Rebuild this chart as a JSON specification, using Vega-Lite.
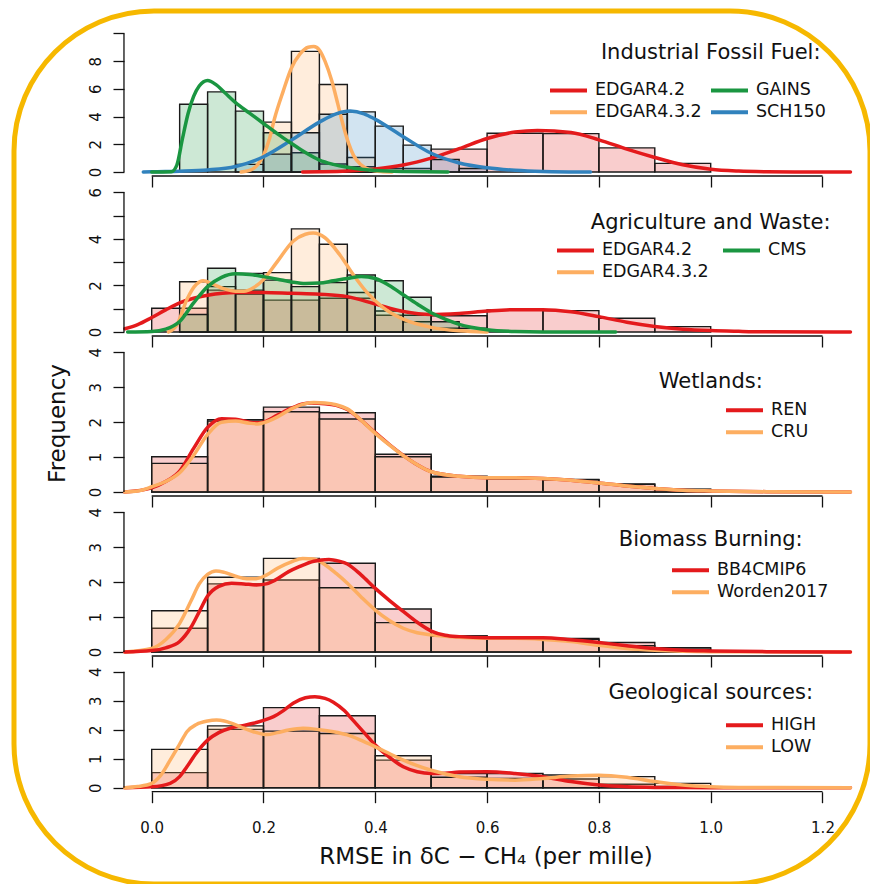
{
"$schema": "https://vega.github.io/schema/vega-lite/v6.json",
"width": 856, "height": 873,
"autosize": {"type": "none"},
"padding": {"left": 14, "top": 11, "right": 0, "bottom": 0},
"background": "white",
"datasets": {
"bars": [
{"p":1,"s":"EDGAR4.2","x0":0.4,"x1":0.5,"v":0.25},{"p":1,"s":"EDGAR4.2","x0":0.5,"x1":0.6,"v":1.65},{"p":1,"s":"EDGAR4.2","x0":0.6,"x1":0.7,"v":2.8},{"p":1,"s":"EDGAR4.2","x0":0.7,"x1":0.8,"v":2.77},{"p":1,"s":"EDGAR4.2","x0":0.8,"x1":0.9,"v":1.74},{"p":1,"s":"EDGAR4.2","x0":0.9,"x1":1.0,"v":0.62},
{"p":1,"s":"EDGAR4.3.2","x0":0.2,"x1":0.25,"v":3.6},{"p":1,"s":"EDGAR4.3.2","x0":0.25,"x1":0.3,"v":8.7},{"p":1,"s":"EDGAR4.3.2","x0":0.3,"x1":0.35,"v":6.31},{"p":1,"s":"EDGAR4.3.2","x0":0.35,"x1":0.4,"v":1.05},
{"p":1,"s":"GAINS","x0":0.05,"x1":0.1,"v":4.89},{"p":1,"s":"GAINS","x0":0.1,"x1":0.15,"v":5.78},{"p":1,"s":"GAINS","x0":0.15,"x1":0.2,"v":4.39},{"p":1,"s":"GAINS","x0":0.2,"x1":0.25,"v":2.83},{"p":1,"s":"GAINS","x0":0.25,"x1":0.3,"v":1.39},{"p":1,"s":"GAINS","x0":0.3,"x1":0.35,"v":0.58},{"p":1,"s":"GAINS","x0":0.35,"x1":0.4,"v":0.38},
{"p":1,"s":"SCH150","x0":0.15,"x1":0.2,"v":0.55},{"p":1,"s":"SCH150","x0":0.2,"x1":0.25,"v":1.29},{"p":1,"s":"SCH150","x0":0.25,"x1":0.3,"v":2.83},{"p":1,"s":"SCH150","x0":0.3,"x1":0.35,"v":4.17},{"p":1,"s":"SCH150","x0":0.35,"x1":0.4,"v":4.34},{"p":1,"s":"SCH150","x0":0.4,"x1":0.45,"v":3.31},{"p":1,"s":"SCH150","x0":0.45,"x1":0.5,"v":1.94},{"p":1,"s":"SCH150","x0":0.5,"x1":0.55,"v":0.9},{"p":1,"s":"SCH150","x0":0.55,"x1":0.6,"v":0.25},
{"p":2,"s":"EDGAR4.2","x0":0.0,"x1":0.1,"v":1.02},{"p":2,"s":"EDGAR4.2","x0":0.1,"x1":0.2,"v":1.8},{"p":2,"s":"EDGAR4.2","x0":0.2,"x1":0.3,"v":1.37},{"p":2,"s":"EDGAR4.2","x0":0.3,"x1":0.4,"v":1.45},{"p":2,"s":"EDGAR4.2","x0":0.4,"x1":0.5,"v":0.72},{"p":2,"s":"EDGAR4.2","x0":0.5,"x1":0.6,"v":0.7},{"p":2,"s":"EDGAR4.2","x0":0.6,"x1":0.7,"v":0.95},{"p":2,"s":"EDGAR4.2","x0":0.7,"x1":0.8,"v":0.92},{"p":2,"s":"EDGAR4.2","x0":0.8,"x1":0.9,"v":0.59},{"p":2,"s":"EDGAR4.2","x0":0.9,"x1":1.0,"v":0.23},
{"p":2,"s":"EDGAR4.3.2","x0":0.05,"x1":0.1,"v":2.16},{"p":2,"s":"EDGAR4.3.2","x0":0.1,"x1":0.15,"v":1.95},{"p":2,"s":"EDGAR4.3.2","x0":0.15,"x1":0.2,"v":1.63},{"p":2,"s":"EDGAR4.3.2","x0":0.2,"x1":0.25,"v":2.55},{"p":2,"s":"EDGAR4.3.2","x0":0.25,"x1":0.3,"v":4.43},{"p":2,"s":"EDGAR4.3.2","x0":0.3,"x1":0.35,"v":3.77},{"p":2,"s":"EDGAR4.3.2","x0":0.35,"x1":0.4,"v":1.7},{"p":2,"s":"EDGAR4.3.2","x0":0.4,"x1":0.45,"v":0.9},{"p":2,"s":"EDGAR4.3.2","x0":0.45,"x1":0.5,"v":0.44},{"p":2,"s":"EDGAR4.3.2","x0":0.5,"x1":0.55,"v":0.16},
{"p":2,"s":"CMS","x0":0.05,"x1":0.1,"v":0.75},{"p":2,"s":"CMS","x0":0.1,"x1":0.15,"v":2.74},{"p":2,"s":"CMS","x0":0.15,"x1":0.2,"v":2.52},{"p":2,"s":"CMS","x0":0.2,"x1":0.25,"v":2.23},{"p":2,"s":"CMS","x0":0.25,"x1":0.3,"v":1.95},{"p":2,"s":"CMS","x0":0.3,"x1":0.35,"v":2.12},{"p":2,"s":"CMS","x0":0.35,"x1":0.4,"v":2.45},{"p":2,"s":"CMS","x0":0.4,"x1":0.45,"v":2.2},{"p":2,"s":"CMS","x0":0.45,"x1":0.5,"v":1.49},{"p":2,"s":"CMS","x0":0.5,"x1":0.55,"v":0.44},{"p":2,"s":"CMS","x0":0.55,"x1":0.6,"v":0.16},
{"p":3,"s":"REN","x0":0.0,"x1":0.1,"v":1.01},{"p":3,"s":"REN","x0":0.1,"x1":0.2,"v":2.07},{"p":3,"s":"REN","x0":0.2,"x1":0.3,"v":2.43},{"p":3,"s":"REN","x0":0.3,"x1":0.4,"v":2.27},{"p":3,"s":"REN","x0":0.4,"x1":0.5,"v":1.08},{"p":3,"s":"REN","x0":0.5,"x1":0.6,"v":0.45},{"p":3,"s":"REN","x0":0.6,"x1":0.7,"v":0.38},{"p":3,"s":"REN","x0":0.7,"x1":0.8,"v":0.36},{"p":3,"s":"REN","x0":0.8,"x1":0.9,"v":0.23},{"p":3,"s":"REN","x0":0.9,"x1":1.0,"v":0.08},
{"p":3,"s":"CRU","x0":0.0,"x1":0.1,"v":0.82},{"p":3,"s":"CRU","x0":0.1,"x1":0.2,"v":2.03},{"p":3,"s":"CRU","x0":0.2,"x1":0.3,"v":2.3},{"p":3,"s":"CRU","x0":0.3,"x1":0.4,"v":2.09},{"p":3,"s":"CRU","x0":0.4,"x1":0.5,"v":1.01},{"p":3,"s":"CRU","x0":0.5,"x1":0.6,"v":0.43},{"p":3,"s":"CRU","x0":0.6,"x1":0.7,"v":0.38},{"p":3,"s":"CRU","x0":0.7,"x1":0.8,"v":0.35},{"p":3,"s":"CRU","x0":0.8,"x1":0.9,"v":0.22},{"p":3,"s":"CRU","x0":0.9,"x1":1.0,"v":0.07},
{"p":4,"s":"BB4CMIP6","x0":0.0,"x1":0.1,"v":0.68},{"p":4,"s":"BB4CMIP6","x0":0.1,"x1":0.2,"v":1.95},{"p":4,"s":"BB4CMIP6","x0":0.2,"x1":0.3,"v":2.06},{"p":4,"s":"BB4CMIP6","x0":0.3,"x1":0.4,"v":2.54},{"p":4,"s":"BB4CMIP6","x0":0.4,"x1":0.5,"v":1.23},{"p":4,"s":"BB4CMIP6","x0":0.5,"x1":0.6,"v":0.46},{"p":4,"s":"BB4CMIP6","x0":0.6,"x1":0.7,"v":0.39},{"p":4,"s":"BB4CMIP6","x0":0.7,"x1":0.8,"v":0.39},{"p":4,"s":"BB4CMIP6","x0":0.8,"x1":0.9,"v":0.27},{"p":4,"s":"BB4CMIP6","x0":0.9,"x1":1.0,"v":0.12},
{"p":4,"s":"Worden2017","x0":0.0,"x1":0.1,"v":1.18},{"p":4,"s":"Worden2017","x0":0.1,"x1":0.2,"v":2.14},{"p":4,"s":"Worden2017","x0":0.2,"x1":0.3,"v":2.68},{"p":4,"s":"Worden2017","x0":0.3,"x1":0.4,"v":1.84},{"p":4,"s":"Worden2017","x0":0.4,"x1":0.5,"v":0.84},{"p":4,"s":"Worden2017","x0":0.5,"x1":0.6,"v":0.46},{"p":4,"s":"Worden2017","x0":0.6,"x1":0.7,"v":0.39},{"p":4,"s":"Worden2017","x0":0.7,"x1":0.8,"v":0.36},{"p":4,"s":"Worden2017","x0":0.8,"x1":0.9,"v":0.18},{"p":4,"s":"Worden2017","x0":0.9,"x1":1.0,"v":0.08},
{"p":5,"s":"HIGH","x0":0.0,"x1":0.1,"v":0.52},{"p":5,"s":"HIGH","x0":0.1,"x1":0.2,"v":2.01},{"p":5,"s":"HIGH","x0":0.2,"x1":0.3,"v":2.76},{"p":5,"s":"HIGH","x0":0.3,"x1":0.4,"v":2.48},{"p":5,"s":"HIGH","x0":0.4,"x1":0.5,"v":0.95},{"p":5,"s":"HIGH","x0":0.5,"x1":0.6,"v":0.49},{"p":5,"s":"HIGH","x0":0.6,"x1":0.7,"v":0.49},{"p":5,"s":"HIGH","x0":0.7,"x1":0.8,"v":0.3},{"p":5,"s":"HIGH","x0":0.8,"x1":0.9,"v":0.12},{"p":5,"s":"HIGH","x0":0.9,"x1":1.0,"v":0.04},
{"p":5,"s":"LOW","x0":0.0,"x1":0.1,"v":1.32},{"p":5,"s":"LOW","x0":0.1,"x1":0.2,"v":2.13},{"p":5,"s":"LOW","x0":0.2,"x1":0.3,"v":1.95},{"p":5,"s":"LOW","x0":0.3,"x1":0.4,"v":1.87},{"p":5,"s":"LOW","x0":0.4,"x1":0.5,"v":1.1},{"p":5,"s":"LOW","x0":0.5,"x1":0.6,"v":0.36},{"p":5,"s":"LOW","x0":0.6,"x1":0.7,"v":0.32},{"p":5,"s":"LOW","x0":0.7,"x1":0.8,"v":0.44},{"p":5,"s":"LOW","x0":0.8,"x1":0.9,"v":0.38},{"p":5,"s":"LOW","x0":0.9,"x1":1.0,"v":0.15}
],
"curves": [
{"p":1,"s":"EDGAR4.2","x":0.27,"v":0},{"p":1,"s":"EDGAR4.2","x":0.3,"v":0.02},{"p":1,"s":"EDGAR4.2","x":0.35,"v":0.08},{"p":1,"s":"EDGAR4.2","x":0.4,"v":0.22},{"p":1,"s":"EDGAR4.2","x":0.45,"v":0.5},{"p":1,"s":"EDGAR4.2","x":0.5,"v":1.0},{"p":1,"s":"EDGAR4.2","x":0.55,"v":1.68},{"p":1,"s":"EDGAR4.2","x":0.6,"v":2.42},{"p":1,"s":"EDGAR4.2","x":0.65,"v":2.88},{"p":1,"s":"EDGAR4.2","x":0.69,"v":3.0},{"p":1,"s":"EDGAR4.2","x":0.75,"v":2.85},{"p":1,"s":"EDGAR4.2","x":0.8,"v":2.32},{"p":1,"s":"EDGAR4.2","x":0.85,"v":1.65},{"p":1,"s":"EDGAR4.2","x":0.9,"v":1.05},{"p":1,"s":"EDGAR4.2","x":0.95,"v":0.52},{"p":1,"s":"EDGAR4.2","x":1.0,"v":0.2},{"p":1,"s":"EDGAR4.2","x":1.05,"v":0.07},{"p":1,"s":"EDGAR4.2","x":1.1,"v":0.02},{"p":1,"s":"EDGAR4.2","x":1.15,"v":0.005},{"p":1,"s":"EDGAR4.2","x":1.25,"v":0},
{"p":1,"s":"EDGAR4.3.2","x":0.16,"v":0},{"p":1,"s":"EDGAR4.3.2","x":0.18,"v":0.2},{"p":1,"s":"EDGAR4.3.2","x":0.19,"v":0.55},{"p":1,"s":"EDGAR4.3.2","x":0.2,"v":1.2},{"p":1,"s":"EDGAR4.3.2","x":0.21,"v":2.3},{"p":1,"s":"EDGAR4.3.2","x":0.22,"v":3.9},{"p":1,"s":"EDGAR4.3.2","x":0.235,"v":5.8},{"p":1,"s":"EDGAR4.3.2","x":0.25,"v":7.5},{"p":1,"s":"EDGAR4.3.2","x":0.265,"v":8.5},{"p":1,"s":"EDGAR4.3.2","x":0.28,"v":9.0},{"p":1,"s":"EDGAR4.3.2","x":0.29,"v":9.05},{"p":1,"s":"EDGAR4.3.2","x":0.3,"v":8.8},{"p":1,"s":"EDGAR4.3.2","x":0.31,"v":8.0},{"p":1,"s":"EDGAR4.3.2","x":0.322,"v":6.6},{"p":1,"s":"EDGAR4.3.2","x":0.333,"v":4.9},{"p":1,"s":"EDGAR4.3.2","x":0.343,"v":3.3},{"p":1,"s":"EDGAR4.3.2","x":0.352,"v":2.1},{"p":1,"s":"EDGAR4.3.2","x":0.361,"v":1.2},{"p":1,"s":"EDGAR4.3.2","x":0.375,"v":0.5},{"p":1,"s":"EDGAR4.3.2","x":0.39,"v":0.15},{"p":1,"s":"EDGAR4.3.2","x":0.41,"v":0.03},{"p":1,"s":"EDGAR4.3.2","x":0.43,"v":0},
{"p":1,"s":"SCH150","x":-0.015,"v":0},{"p":1,"s":"SCH150","x":0.0,"v":0.02},{"p":1,"s":"SCH150","x":0.05,"v":0.06},{"p":1,"s":"SCH150","x":0.1,"v":0.15},{"p":1,"s":"SCH150","x":0.15,"v":0.4},{"p":1,"s":"SCH150","x":0.2,"v":1.1},{"p":1,"s":"SCH150","x":0.25,"v":2.3},{"p":1,"s":"SCH150","x":0.3,"v":3.6},{"p":1,"s":"SCH150","x":0.33,"v":4.2},{"p":1,"s":"SCH150","x":0.355,"v":4.4},{"p":1,"s":"SCH150","x":0.38,"v":4.2},{"p":1,"s":"SCH150","x":0.4,"v":3.8},{"p":1,"s":"SCH150","x":0.45,"v":2.55},{"p":1,"s":"SCH150","x":0.5,"v":1.35},{"p":1,"s":"SCH150","x":0.55,"v":0.65},{"p":1,"s":"SCH150","x":0.6,"v":0.3},{"p":1,"s":"SCH150","x":0.65,"v":0.12},{"p":1,"s":"SCH150","x":0.7,"v":0.04},{"p":1,"s":"SCH150","x":0.785,"v":0},
{"p":1,"s":"GAINS","x":0.0,"v":0},{"p":1,"s":"GAINS","x":0.035,"v":0.02},{"p":1,"s":"GAINS","x":0.045,"v":0.5},{"p":1,"s":"GAINS","x":0.055,"v":2.4},{"p":1,"s":"GAINS","x":0.065,"v":4.2},{"p":1,"s":"GAINS","x":0.075,"v":5.45},{"p":1,"s":"GAINS","x":0.085,"v":6.2},{"p":1,"s":"GAINS","x":0.1,"v":6.6},{"p":1,"s":"GAINS","x":0.115,"v":6.3},{"p":1,"s":"GAINS","x":0.13,"v":5.75},{"p":1,"s":"GAINS","x":0.15,"v":5.0},{"p":1,"s":"GAINS","x":0.175,"v":4.25},{"p":1,"s":"GAINS","x":0.2,"v":3.5},{"p":1,"s":"GAINS","x":0.225,"v":2.75},{"p":1,"s":"GAINS","x":0.25,"v":2.06},{"p":1,"s":"GAINS","x":0.275,"v":1.4},{"p":1,"s":"GAINS","x":0.3,"v":0.86},{"p":1,"s":"GAINS","x":0.325,"v":0.55},{"p":1,"s":"GAINS","x":0.35,"v":0.34},{"p":1,"s":"GAINS","x":0.4,"v":0.1},{"p":1,"s":"GAINS","x":0.45,"v":0.03},{"p":1,"s":"GAINS","x":0.53,"v":0},
{"p":2,"s":"EDGAR4.2","x":-0.048,"v":0.14},{"p":2,"s":"EDGAR4.2","x":-0.025,"v":0.32},{"p":2,"s":"EDGAR4.2","x":0.0,"v":0.62},{"p":2,"s":"EDGAR4.2","x":0.025,"v":0.95},{"p":2,"s":"EDGAR4.2","x":0.05,"v":1.25},{"p":2,"s":"EDGAR4.2","x":0.075,"v":1.45},{"p":2,"s":"EDGAR4.2","x":0.1,"v":1.58},{"p":2,"s":"EDGAR4.2","x":0.15,"v":1.7},{"p":2,"s":"EDGAR4.2","x":0.2,"v":1.7},{"p":2,"s":"EDGAR4.2","x":0.25,"v":1.66},{"p":2,"s":"EDGAR4.2","x":0.3,"v":1.62},{"p":2,"s":"EDGAR4.2","x":0.35,"v":1.52},{"p":2,"s":"EDGAR4.2","x":0.4,"v":1.2},{"p":2,"s":"EDGAR4.2","x":0.45,"v":0.88},{"p":2,"s":"EDGAR4.2","x":0.5,"v":0.75},{"p":2,"s":"EDGAR4.2","x":0.55,"v":0.8},{"p":2,"s":"EDGAR4.2","x":0.6,"v":0.9},{"p":2,"s":"EDGAR4.2","x":0.65,"v":0.96},{"p":2,"s":"EDGAR4.2","x":0.7,"v":0.96},{"p":2,"s":"EDGAR4.2","x":0.75,"v":0.87},{"p":2,"s":"EDGAR4.2","x":0.8,"v":0.66},{"p":2,"s":"EDGAR4.2","x":0.85,"v":0.42},{"p":2,"s":"EDGAR4.2","x":0.9,"v":0.24},{"p":2,"s":"EDGAR4.2","x":0.95,"v":0.12},{"p":2,"s":"EDGAR4.2","x":1.0,"v":0.06},{"p":2,"s":"EDGAR4.2","x":1.05,"v":0.03},{"p":2,"s":"EDGAR4.2","x":1.1,"v":0.01},{"p":2,"s":"EDGAR4.2","x":1.25,"v":0},
{"p":2,"s":"EDGAR4.3.2","x":0.03,"v":0},{"p":2,"s":"EDGAR4.3.2","x":0.045,"v":0.3},{"p":2,"s":"EDGAR4.3.2","x":0.063,"v":1.4},{"p":2,"s":"EDGAR4.3.2","x":0.08,"v":2.05},{"p":2,"s":"EDGAR4.3.2","x":0.092,"v":2.2},{"p":2,"s":"EDGAR4.3.2","x":0.11,"v":2.05},{"p":2,"s":"EDGAR4.3.2","x":0.13,"v":1.85},{"p":2,"s":"EDGAR4.3.2","x":0.15,"v":1.75},{"p":2,"s":"EDGAR4.3.2","x":0.165,"v":1.75},{"p":2,"s":"EDGAR4.3.2","x":0.182,"v":1.9},{"p":2,"s":"EDGAR4.3.2","x":0.2,"v":2.25},{"p":2,"s":"EDGAR4.3.2","x":0.224,"v":3.0},{"p":2,"s":"EDGAR4.3.2","x":0.253,"v":3.9},{"p":2,"s":"EDGAR4.3.2","x":0.275,"v":4.2},{"p":2,"s":"EDGAR4.3.2","x":0.289,"v":4.25},{"p":2,"s":"EDGAR4.3.2","x":0.31,"v":4.05},{"p":2,"s":"EDGAR4.3.2","x":0.337,"v":3.3},{"p":2,"s":"EDGAR4.3.2","x":0.361,"v":2.45},{"p":2,"s":"EDGAR4.3.2","x":0.385,"v":1.7},{"p":2,"s":"EDGAR4.3.2","x":0.414,"v":1.05},{"p":2,"s":"EDGAR4.3.2","x":0.45,"v":0.55},{"p":2,"s":"EDGAR4.3.2","x":0.5,"v":0.2},{"p":2,"s":"EDGAR4.3.2","x":0.55,"v":0.05},{"p":2,"s":"EDGAR4.3.2","x":0.6,"v":0},
{"p":2,"s":"CMS","x":-0.043,"v":0},{"p":2,"s":"CMS","x":0.0,"v":0.02},{"p":2,"s":"CMS","x":0.025,"v":0.12},{"p":2,"s":"CMS","x":0.05,"v":0.45},{"p":2,"s":"CMS","x":0.075,"v":1.25},{"p":2,"s":"CMS","x":0.1,"v":1.95},{"p":2,"s":"CMS","x":0.125,"v":2.35},{"p":2,"s":"CMS","x":0.15,"v":2.5},{"p":2,"s":"CMS","x":0.175,"v":2.47},{"p":2,"s":"CMS","x":0.2,"v":2.38},{"p":2,"s":"CMS","x":0.225,"v":2.27},{"p":2,"s":"CMS","x":0.25,"v":2.15},{"p":2,"s":"CMS","x":0.275,"v":2.08},{"p":2,"s":"CMS","x":0.3,"v":2.1},{"p":2,"s":"CMS","x":0.325,"v":2.2},{"p":2,"s":"CMS","x":0.35,"v":2.3},{"p":2,"s":"CMS","x":0.375,"v":2.38},{"p":2,"s":"CMS","x":0.4,"v":2.3},{"p":2,"s":"CMS","x":0.425,"v":2.0},{"p":2,"s":"CMS","x":0.45,"v":1.6},{"p":2,"s":"CMS","x":0.475,"v":1.2},{"p":2,"s":"CMS","x":0.5,"v":0.83},{"p":2,"s":"CMS","x":0.525,"v":0.55},{"p":2,"s":"CMS","x":0.55,"v":0.33},{"p":2,"s":"CMS","x":0.6,"v":0.1},{"p":2,"s":"CMS","x":0.65,"v":0.02},{"p":2,"s":"CMS","x":0.7,"v":0},{"p":2,"s":"CMS","x":0.83,"v":0},
{"p":3,"s":"REN","x":-0.048,"v":0},{"p":3,"s":"REN","x":0.0,"v":0.12},{"p":3,"s":"REN","x":0.025,"v":0.3},{"p":3,"s":"REN","x":0.05,"v":0.6},{"p":3,"s":"REN","x":0.075,"v":1.25},{"p":3,"s":"REN","x":0.1,"v":1.85},{"p":3,"s":"REN","x":0.125,"v":2.1},{"p":3,"s":"REN","x":0.15,"v":2.08},{"p":3,"s":"REN","x":0.175,"v":2.0},{"p":3,"s":"REN","x":0.19,"v":1.98},{"p":3,"s":"REN","x":0.2,"v":2.0},{"p":3,"s":"REN","x":0.225,"v":2.2},{"p":3,"s":"REN","x":0.25,"v":2.4},{"p":3,"s":"REN","x":0.27,"v":2.52},{"p":3,"s":"REN","x":0.285,"v":2.55},{"p":3,"s":"REN","x":0.31,"v":2.53},{"p":3,"s":"REN","x":0.33,"v":2.48},{"p":3,"s":"REN","x":0.35,"v":2.36},{"p":3,"s":"REN","x":0.375,"v":2.05},{"p":3,"s":"REN","x":0.4,"v":1.7},{"p":3,"s":"REN","x":0.425,"v":1.36},{"p":3,"s":"REN","x":0.45,"v":1.05},{"p":3,"s":"REN","x":0.475,"v":0.78},{"p":3,"s":"REN","x":0.5,"v":0.58},{"p":3,"s":"REN","x":0.55,"v":0.45},{"p":3,"s":"REN","x":0.6,"v":0.41},{"p":3,"s":"REN","x":0.65,"v":0.41},{"p":3,"s":"REN","x":0.7,"v":0.39},{"p":3,"s":"REN","x":0.75,"v":0.34},{"p":3,"s":"REN","x":0.8,"v":0.26},{"p":3,"s":"REN","x":0.85,"v":0.17},{"p":3,"s":"REN","x":0.9,"v":0.1},{"p":3,"s":"REN","x":0.95,"v":0.05},{"p":3,"s":"REN","x":1.0,"v":0.03},{"p":3,"s":"REN","x":1.1,"v":0.01},{"p":3,"s":"REN","x":1.25,"v":0},
{"p":3,"s":"CRU","x":-0.048,"v":0},{"p":3,"s":"CRU","x":-0.025,"v":0.03},{"p":3,"s":"CRU","x":0.0,"v":0.15},{"p":3,"s":"CRU","x":0.025,"v":0.3},{"p":3,"s":"CRU","x":0.05,"v":0.55},{"p":3,"s":"CRU","x":0.075,"v":1.05},{"p":3,"s":"CRU","x":0.1,"v":1.65},{"p":3,"s":"CRU","x":0.125,"v":2.0},{"p":3,"s":"CRU","x":0.15,"v":2.03},{"p":3,"s":"CRU","x":0.175,"v":1.97},{"p":3,"s":"CRU","x":0.19,"v":1.95},{"p":3,"s":"CRU","x":0.2,"v":1.98},{"p":3,"s":"CRU","x":0.225,"v":2.15},{"p":3,"s":"CRU","x":0.25,"v":2.38},{"p":3,"s":"CRU","x":0.275,"v":2.53},{"p":3,"s":"CRU","x":0.29,"v":2.56},{"p":3,"s":"CRU","x":0.31,"v":2.55},{"p":3,"s":"CRU","x":0.33,"v":2.5},{"p":3,"s":"CRU","x":0.35,"v":2.38},{"p":3,"s":"CRU","x":0.375,"v":2.05},{"p":3,"s":"CRU","x":0.4,"v":1.68},{"p":3,"s":"CRU","x":0.425,"v":1.35},{"p":3,"s":"CRU","x":0.45,"v":1.04},{"p":3,"s":"CRU","x":0.475,"v":0.78},{"p":3,"s":"CRU","x":0.5,"v":0.58},{"p":3,"s":"CRU","x":0.55,"v":0.45},{"p":3,"s":"CRU","x":0.6,"v":0.41},{"p":3,"s":"CRU","x":0.65,"v":0.41},{"p":3,"s":"CRU","x":0.7,"v":0.39},{"p":3,"s":"CRU","x":0.75,"v":0.34},{"p":3,"s":"CRU","x":0.8,"v":0.26},{"p":3,"s":"CRU","x":0.85,"v":0.17},{"p":3,"s":"CRU","x":0.9,"v":0.1},{"p":3,"s":"CRU","x":0.95,"v":0.05},{"p":3,"s":"CRU","x":1.0,"v":0.03},{"p":3,"s":"CRU","x":1.1,"v":0.01},{"p":3,"s":"CRU","x":1.25,"v":0},
{"p":4,"s":"Worden2017","x":-0.048,"v":0},{"p":4,"s":"Worden2017","x":0.0,"v":0.1},{"p":4,"s":"Worden2017","x":0.025,"v":0.35},{"p":4,"s":"Worden2017","x":0.05,"v":0.82},{"p":4,"s":"Worden2017","x":0.07,"v":1.45},{"p":4,"s":"Worden2017","x":0.085,"v":1.95},{"p":4,"s":"Worden2017","x":0.1,"v":2.22},{"p":4,"s":"Worden2017","x":0.115,"v":2.32},{"p":4,"s":"Worden2017","x":0.13,"v":2.28},{"p":4,"s":"Worden2017","x":0.15,"v":2.17},{"p":4,"s":"Worden2017","x":0.17,"v":2.1},{"p":4,"s":"Worden2017","x":0.187,"v":2.1},{"p":4,"s":"Worden2017","x":0.205,"v":2.2},{"p":4,"s":"Worden2017","x":0.225,"v":2.4},{"p":4,"s":"Worden2017","x":0.25,"v":2.58},{"p":4,"s":"Worden2017","x":0.27,"v":2.68},{"p":4,"s":"Worden2017","x":0.29,"v":2.66},{"p":4,"s":"Worden2017","x":0.31,"v":2.5},{"p":4,"s":"Worden2017","x":0.33,"v":2.25},{"p":4,"s":"Worden2017","x":0.35,"v":1.97},{"p":4,"s":"Worden2017","x":0.375,"v":1.57},{"p":4,"s":"Worden2017","x":0.4,"v":1.2},{"p":4,"s":"Worden2017","x":0.425,"v":0.9},{"p":4,"s":"Worden2017","x":0.45,"v":0.68},{"p":4,"s":"Worden2017","x":0.475,"v":0.55},{"p":4,"s":"Worden2017","x":0.5,"v":0.49},{"p":4,"s":"Worden2017","x":0.55,"v":0.42},{"p":4,"s":"Worden2017","x":0.6,"v":0.39},{"p":4,"s":"Worden2017","x":0.65,"v":0.39},{"p":4,"s":"Worden2017","x":0.7,"v":0.36},{"p":4,"s":"Worden2017","x":0.75,"v":0.3},{"p":4,"s":"Worden2017","x":0.8,"v":0.19},{"p":4,"s":"Worden2017","x":0.85,"v":0.1},{"p":4,"s":"Worden2017","x":0.9,"v":0.05},{"p":4,"s":"Worden2017","x":0.95,"v":0.02},{"p":4,"s":"Worden2017","x":1.0,"v":0.01},{"p":4,"s":"Worden2017","x":1.25,"v":0},
{"p":4,"s":"BB4CMIP6","x":-0.048,"v":0},{"p":4,"s":"BB4CMIP6","x":0.0,"v":0.04},{"p":4,"s":"BB4CMIP6","x":0.025,"v":0.12},{"p":4,"s":"BB4CMIP6","x":0.05,"v":0.3},{"p":4,"s":"BB4CMIP6","x":0.07,"v":0.7},{"p":4,"s":"BB4CMIP6","x":0.085,"v":1.15},{"p":4,"s":"BB4CMIP6","x":0.1,"v":1.6},{"p":4,"s":"BB4CMIP6","x":0.12,"v":1.88},{"p":4,"s":"BB4CMIP6","x":0.143,"v":1.97},{"p":4,"s":"BB4CMIP6","x":0.165,"v":1.95},{"p":4,"s":"BB4CMIP6","x":0.187,"v":1.92},{"p":4,"s":"BB4CMIP6","x":0.205,"v":1.95},{"p":4,"s":"BB4CMIP6","x":0.22,"v":2.05},{"p":4,"s":"BB4CMIP6","x":0.245,"v":2.3},{"p":4,"s":"BB4CMIP6","x":0.265,"v":2.45},{"p":4,"s":"BB4CMIP6","x":0.29,"v":2.6},{"p":4,"s":"BB4CMIP6","x":0.317,"v":2.65},{"p":4,"s":"BB4CMIP6","x":0.335,"v":2.6},{"p":4,"s":"BB4CMIP6","x":0.35,"v":2.52},{"p":4,"s":"BB4CMIP6","x":0.375,"v":2.2},{"p":4,"s":"BB4CMIP6","x":0.4,"v":1.82},{"p":4,"s":"BB4CMIP6","x":0.425,"v":1.48},{"p":4,"s":"BB4CMIP6","x":0.45,"v":1.16},{"p":4,"s":"BB4CMIP6","x":0.475,"v":0.85},{"p":4,"s":"BB4CMIP6","x":0.5,"v":0.6},{"p":4,"s":"BB4CMIP6","x":0.525,"v":0.48},{"p":4,"s":"BB4CMIP6","x":0.55,"v":0.44},{"p":4,"s":"BB4CMIP6","x":0.6,"v":0.41},{"p":4,"s":"BB4CMIP6","x":0.65,"v":0.41},{"p":4,"s":"BB4CMIP6","x":0.7,"v":0.41},{"p":4,"s":"BB4CMIP6","x":0.75,"v":0.35},{"p":4,"s":"BB4CMIP6","x":0.8,"v":0.27},{"p":4,"s":"BB4CMIP6","x":0.85,"v":0.18},{"p":4,"s":"BB4CMIP6","x":0.9,"v":0.1},{"p":4,"s":"BB4CMIP6","x":0.95,"v":0.05},{"p":4,"s":"BB4CMIP6","x":1.0,"v":0.03},{"p":4,"s":"BB4CMIP6","x":1.1,"v":0.01},{"p":4,"s":"BB4CMIP6","x":1.25,"v":0},
{"p":5,"s":"HIGH","x":-0.048,"v":0},{"p":5,"s":"HIGH","x":0.0,"v":0.03},{"p":5,"s":"HIGH","x":0.033,"v":0.15},{"p":5,"s":"HIGH","x":0.05,"v":0.38},{"p":5,"s":"HIGH","x":0.063,"v":0.72},{"p":5,"s":"HIGH","x":0.08,"v":1.2},{"p":5,"s":"HIGH","x":0.1,"v":1.64},{"p":5,"s":"HIGH","x":0.12,"v":1.9},{"p":5,"s":"HIGH","x":0.14,"v":2.05},{"p":5,"s":"HIGH","x":0.16,"v":2.13},{"p":5,"s":"HIGH","x":0.182,"v":2.22},{"p":5,"s":"HIGH","x":0.2,"v":2.32},{"p":5,"s":"HIGH","x":0.218,"v":2.45},{"p":5,"s":"HIGH","x":0.235,"v":2.65},{"p":5,"s":"HIGH","x":0.253,"v":2.91},{"p":5,"s":"HIGH","x":0.275,"v":3.1},{"p":5,"s":"HIGH","x":0.292,"v":3.14},{"p":5,"s":"HIGH","x":0.31,"v":3.08},{"p":5,"s":"HIGH","x":0.325,"v":2.95},{"p":5,"s":"HIGH","x":0.345,"v":2.65},{"p":5,"s":"HIGH","x":0.36,"v":2.33},{"p":5,"s":"HIGH","x":0.38,"v":1.9},{"p":5,"s":"HIGH","x":0.4,"v":1.47},{"p":5,"s":"HIGH","x":0.425,"v":1.05},{"p":5,"s":"HIGH","x":0.45,"v":0.72},{"p":5,"s":"HIGH","x":0.475,"v":0.55},{"p":5,"s":"HIGH","x":0.5,"v":0.49},{"p":5,"s":"HIGH","x":0.525,"v":0.5},{"p":5,"s":"HIGH","x":0.55,"v":0.54},{"p":5,"s":"HIGH","x":0.6,"v":0.55},{"p":5,"s":"HIGH","x":0.65,"v":0.49},{"p":5,"s":"HIGH","x":0.7,"v":0.38},{"p":5,"s":"HIGH","x":0.75,"v":0.21},{"p":5,"s":"HIGH","x":0.8,"v":0.09},{"p":5,"s":"HIGH","x":0.85,"v":0.03},{"p":5,"s":"HIGH","x":0.9,"v":0.01},{"p":5,"s":"HIGH","x":1.0,"v":0},{"p":5,"s":"HIGH","x":1.25,"v":0},
{"p":5,"s":"LOW","x":-0.048,"v":0},{"p":5,"s":"LOW","x":-0.025,"v":0.04},{"p":5,"s":"LOW","x":0.0,"v":0.15},{"p":5,"s":"LOW","x":0.015,"v":0.4},{"p":5,"s":"LOW","x":0.033,"v":0.95},{"p":5,"s":"LOW","x":0.05,"v":1.5},{"p":5,"s":"LOW","x":0.063,"v":1.93},{"p":5,"s":"LOW","x":0.08,"v":2.18},{"p":5,"s":"LOW","x":0.1,"v":2.3},{"p":5,"s":"LOW","x":0.116,"v":2.33},{"p":5,"s":"LOW","x":0.13,"v":2.3},{"p":5,"s":"LOW","x":0.146,"v":2.2},{"p":5,"s":"LOW","x":0.165,"v":2.05},{"p":5,"s":"LOW","x":0.182,"v":1.93},{"p":5,"s":"LOW","x":0.206,"v":1.83},{"p":5,"s":"LOW","x":0.225,"v":1.9},{"p":5,"s":"LOW","x":0.245,"v":1.99},{"p":5,"s":"LOW","x":0.271,"v":2.05},{"p":5,"s":"LOW","x":0.3,"v":2.0},{"p":5,"s":"LOW","x":0.325,"v":1.93},{"p":5,"s":"LOW","x":0.35,"v":1.82},{"p":5,"s":"LOW","x":0.375,"v":1.63},{"p":5,"s":"LOW","x":0.4,"v":1.41},{"p":5,"s":"LOW","x":0.425,"v":1.18},{"p":5,"s":"LOW","x":0.45,"v":0.95},{"p":5,"s":"LOW","x":0.475,"v":0.76},{"p":5,"s":"LOW","x":0.5,"v":0.6},{"p":5,"s":"LOW","x":0.55,"v":0.38},{"p":5,"s":"LOW","x":0.6,"v":0.29},{"p":5,"s":"LOW","x":0.65,"v":0.26},{"p":5,"s":"LOW","x":0.7,"v":0.32},{"p":5,"s":"LOW","x":0.75,"v":0.4},{"p":5,"s":"LOW","x":0.8,"v":0.43},{"p":5,"s":"LOW","x":0.85,"v":0.36},{"p":5,"s":"LOW","x":0.9,"v":0.21},{"p":5,"s":"LOW","x":0.95,"v":0.09},{"p":5,"s":"LOW","x":1.0,"v":0.03},{"p":5,"s":"LOW","x":1.05,"v":0.01},{"p":5,"s":"LOW","x":1.25,"v":0}
]
},
"layer": [
{
"layer": [
{"data": {"name": "bars"}, "transform": [{"filter": "datum.p == 1"}],
 "mark": {"type": "bar", "fillOpacity": 0.22, "stroke": "#1a1a1a", "strokeWidth": 1.4},
 "encoding": {
  "x": {"field": "x0", "type": "quantitative", "scale": {"domain": [-0.24633, 1.28498], "nice": false, "zero": false}, "axis": {"orient": "bottom", "offset": -708, "values": [0,0.2,0.4,0.6,0.8,1,1.2], "labels": false, "title": null}},
  "x2": {"field": "x1"},
  "y": {"field": "v", "type": "quantitative", "scale": {"domain": [-51.371, 11.616], "nice": false, "zero": false}, "axis": {"orient": "left", "offset": -110, "values": [0,2,4,6,8,10], "labelExpr": "datum.value == 10 ? '' : datum.label", "title": null}},
  "y2": {"datum": 0},
  "fill": {"field": "s", "type": "nominal", "scale": {"domain": ["SCH150","EDGAR4.3.2","GAINS","EDGAR4.2"], "range": ["#3182bd","#fdae61","#1a9641","#e41a1c"]}, "legend": null}
 }},
{"data": {"name": "curves"}, "transform": [{"filter": "datum.p == 1"}],
 "mark": {"type": "line", "strokeWidth": 3.5, "interpolate": "monotone", "strokeCap": "round", "strokeJoin": "round"},
 "encoding": {
  "x": {"field": "x", "type": "quantitative"},
  "y": {"field": "v", "type": "quantitative"},
  "stroke": {"field": "s", "type": "nominal", "scale": {"domain": ["EDGAR4.2","EDGAR4.3.2","GAINS","SCH150"], "range": ["#e41a1c","#fdae61","#1a9641","#3182bd"]}, "legend": {"title": null, "orient": "none", "legendX": 534, "legendY": 68.45, "columns": 2, "columnPadding": 7, "clipHeight": 21.7, "rowPadding": 0}}
 }},
{"data": {"values": [{}]}, "mark": {"type": "rule", "color": "#111", "strokeWidth": 1.3}, "encoding": {"x": {"datum": -0.0496}, "y": {"datum": 0}, "y2": {"datum": 10}}},
{"data": {"values": [{}]}, "mark": {"type": "rule", "color": "#111", "strokeWidth": 1.3}, "encoding": {"x": {"datum": 0}, "x2": {"datum": 1.2}, "y": {"datum": -0.2886}}},
{"data": {"values": [{}]}, "mark": {"type": "text", "font": "DejaVu Sans", "fontSize": 21, "color": "#111", "align": "center", "baseline": "middle"}, "encoding": {"x": {"datum": 1.0}, "y": {"datum": 8.59}, "text": {"value": "Industrial Fossil Fuel:"}}}
]
},
{
"layer": [
{"data": {"name": "bars"}, "transform": [{"filter": "datum.p == 2"}],
 "mark": {"type": "bar", "fillOpacity": 0.22, "stroke": "#1a1a1a", "strokeWidth": 1.4},
 "encoding": {
  "x": {"field": "x0", "type": "quantitative", "scale": {"domain": [-0.24633, 1.28498], "nice": false, "zero": false}, "axis": {"orient": "bottom", "offset": -548, "values": [0,0.2,0.4,0.6,0.8,1,1.2], "labels": false, "title": null}},
  "x2": {"field": "x1"},
  "y": {"field": "v", "type": "quantitative", "scale": {"domain": [-23.711, 13.789], "nice": false, "zero": false}, "axis": {"orient": "left", "offset": -110, "values": [0,1,2,3,4,5,6], "labelExpr": "datum.value % 2 == 0 ? datum.label : ''", "title": null}},
  "y2": {"datum": 0},
  "fill": {"field": "s", "type": "nominal", "scale": {"domain": ["EDGAR4.3.2","CMS","EDGAR4.2"], "range": ["#fdae61","#1a9641","#e41a1c"]}, "legend": null}
 }},
{"data": {"name": "curves"}, "transform": [{"filter": "datum.p == 2"}],
 "mark": {"type": "line", "strokeWidth": 3.5, "interpolate": "monotone", "strokeCap": "round", "strokeJoin": "round"},
 "encoding": {
  "x": {"field": "x", "type": "quantitative"},
  "y": {"field": "v", "type": "quantitative"},
  "stroke": {"field": "s", "type": "nominal", "scale": {"domain": ["EDGAR4.2","EDGAR4.3.2","CMS"], "range": ["#e41a1c","#fdae61","#1a9641"]}, "legend": {"title": null, "orient": "none", "legendX": 541, "legendY": 228.45, "columns": 2, "columnPadding": 12, "clipHeight": 21.7, "rowPadding": 0}}
 }},
{"data": {"values": [{}]}, "mark": {"type": "rule", "color": "#111", "strokeWidth": 1.3}, "encoding": {"x": {"datum": -0.0496}, "y": {"datum": 0}, "y2": {"datum": 6}}},
{"data": {"values": [{}]}, "mark": {"type": "rule", "color": "#111", "strokeWidth": 1.3}, "encoding": {"x": {"datum": 0}, "x2": {"datum": 1.2}, "y": {"datum": -0.1718}}},
{"data": {"values": [{}]}, "mark": {"type": "text", "font": "DejaVu Sans", "fontSize": 21, "color": "#111", "align": "center", "baseline": "middle"}, "encoding": {"x": {"datum": 1.0}, "y": {"datum": 4.669}, "text": {"value": "Agriculture and Waste:"}}}
]
},
{
"layer": [
{"data": {"name": "bars"}, "transform": [{"filter": "datum.p == 3"}],
 "mark": {"type": "bar", "fillOpacity": 0.22, "stroke": "#1a1a1a", "strokeWidth": 1.4},
 "encoding": {
  "x": {"field": "x0", "type": "quantitative", "scale": {"domain": [-0.24633, 1.28498], "nice": false, "zero": false}, "axis": {"orient": "bottom", "offset": -388, "values": [0,0.2,0.4,0.6,0.8,1,1.2], "labels": false, "title": null}},
  "x2": {"field": "x1"},
  "y": {"field": "v", "type": "quantitative", "scale": {"domain": [-11.222, 13.771], "nice": false, "zero": false}, "axis": {"orient": "left", "offset": -110, "values": [0,1,2,3,4], "title": "Frequency", "titleX": -67, "titleY": 412, "titleAngle": 270, "titleAlign": "center", "titleBaseline": "middle"}},
  "y2": {"datum": 0},
  "fill": {"field": "s", "type": "nominal", "scale": {"domain": ["CRU","REN"], "range": ["#fdae61","#e41a1c"]}, "legend": null}
 }},
{"data": {"name": "curves"}, "transform": [{"filter": "datum.p == 3"}],
 "mark": {"type": "line", "strokeWidth": 3.5, "interpolate": "monotone", "strokeCap": "round", "strokeJoin": "round"},
 "encoding": {
  "x": {"field": "x", "type": "quantitative"},
  "y": {"field": "v", "type": "quantitative"},
  "stroke": {"field": "s", "type": "nominal", "scale": {"domain": ["REN","CRU"], "range": ["#e41a1c","#fdae61"]}, "legend": {"title": null, "orient": "none", "legendX": 710, "legendY": 388.45, "clipHeight": 21.7, "rowPadding": 0}}
 }},
{"data": {"values": [{}]}, "mark": {"type": "rule", "color": "#111", "strokeWidth": 1.3}, "encoding": {"x": {"datum": -0.0496}, "y": {"datum": 0}, "y2": {"datum": 4}}},
{"data": {"values": [{}]}, "mark": {"type": "rule", "color": "#111", "strokeWidth": 1.3}, "encoding": {"x": {"datum": 0}, "x2": {"datum": 1.2}, "y": {"datum": -0.1145}}},
{"data": {"values": [{}]}, "mark": {"type": "text", "font": "DejaVu Sans", "fontSize": 21, "color": "#111", "align": "center", "baseline": "middle"}, "encoding": {"x": {"datum": 1.0}, "y": {"datum": 3.158}, "text": {"value": "Wetlands:"}}}
]
},
{
"layer": [
{"data": {"name": "bars"}, "transform": [{"filter": "datum.p == 4"}],
 "mark": {"type": "bar", "fillOpacity": 0.22, "stroke": "#1a1a1a", "strokeWidth": 1.4},
 "encoding": {
  "x": {"field": "x0", "type": "quantitative", "scale": {"domain": [-0.24633, 1.28498], "nice": false, "zero": false}, "axis": {"orient": "bottom", "offset": -228, "values": [0,0.2,0.4,0.6,0.8,1,1.2], "labels": false, "title": null}},
  "x2": {"field": "x1"},
  "y": {"field": "v", "type": "quantitative", "scale": {"domain": [-6.642, 18.351], "nice": false, "zero": false}, "axis": {"orient": "left", "offset": -110, "values": [0,1,2,3,4], "title": null}},
  "y2": {"datum": 0},
  "fill": {"field": "s", "type": "nominal", "scale": {"domain": ["Worden2017","BB4CMIP6"], "range": ["#fdae61","#e41a1c"]}, "legend": null}
 }},
{"data": {"name": "curves"}, "transform": [{"filter": "datum.p == 4"}],
 "mark": {"type": "line", "strokeWidth": 3.5, "interpolate": "monotone", "strokeCap": "round", "strokeJoin": "round"},
 "encoding": {
  "x": {"field": "x", "type": "quantitative"},
  "y": {"field": "v", "type": "quantitative"},
  "stroke": {"field": "s", "type": "nominal", "scale": {"domain": ["BB4CMIP6","Worden2017"], "range": ["#e41a1c","#fdae61"]}, "legend": {"title": null, "orient": "none", "legendX": 656, "legendY": 548.45, "clipHeight": 21.7, "rowPadding": 0}}
 }},
{"data": {"values": [{}]}, "mark": {"type": "rule", "color": "#111", "strokeWidth": 1.3}, "encoding": {"x": {"datum": -0.0496}, "y": {"datum": 0}, "y2": {"datum": 4}}},
{"data": {"values": [{}]}, "mark": {"type": "rule", "color": "#111", "strokeWidth": 1.3}, "encoding": {"x": {"datum": 0}, "x2": {"datum": 1.2}, "y": {"datum": -0.1145}}},
{"data": {"values": [{}]}, "mark": {"type": "text", "font": "DejaVu Sans", "fontSize": 21, "color": "#111", "align": "center", "baseline": "middle"}, "encoding": {"x": {"datum": 1.0}, "y": {"datum": 3.206}, "text": {"value": "Biomass Burning:"}}}
]
},
{
"layer": [
{"data": {"name": "bars"}, "transform": [{"filter": "datum.p == 5"}],
 "mark": {"type": "bar", "fillOpacity": 0.22, "stroke": "#1a1a1a", "strokeWidth": 1.4},
 "encoding": {
  "x": {"field": "x0", "type": "quantitative", "scale": {"domain": [-0.24633, 1.28498], "nice": false, "zero": false}, "axis": {"orient": "bottom", "offset": -92.3, "values": [0,0.2,0.4,0.6,0.8,1,1.2], "format": ".1f", "title": "RMSE in δC − CH₄ (per mille)", "titleX": 471.5, "titleY": 65, "titleAlign": "center", "titleBaseline": "middle"}},
  "x2": {"field": "x1"},
  "y": {"field": "v", "type": "quantitative", "scale": {"domain": [-3.321, 26.783], "nice": false, "zero": false}, "axis": {"orient": "left", "offset": -110, "values": [0,1,2,3,4], "title": null}},
  "y2": {"datum": 0},
  "fill": {"field": "s", "type": "nominal", "scale": {"domain": ["LOW","HIGH"], "range": ["#fdae61","#e41a1c"]}, "legend": null}
 }},
{"data": {"name": "curves"}, "transform": [{"filter": "datum.p == 5"}],
 "mark": {"type": "line", "strokeWidth": 3.5, "interpolate": "monotone", "strokeCap": "round", "strokeJoin": "round"},
 "encoding": {
  "x": {"field": "x", "type": "quantitative"},
  "y": {"field": "v", "type": "quantitative"},
  "stroke": {"field": "s", "type": "nominal", "scale": {"domain": ["HIGH","LOW"], "range": ["#e41a1c","#fdae61"]}, "legend": {"title": null, "orient": "none", "legendX": 710, "legendY": 703.45, "clipHeight": 21.7, "rowPadding": 0}}
 }},
{"data": {"values": [{}]}, "mark": {"type": "rule", "color": "#111", "strokeWidth": 1.3}, "encoding": {"x": {"datum": -0.0496}, "y": {"datum": 0}, "y2": {"datum": 4}}},
{"data": {"values": [{}]}, "mark": {"type": "rule", "color": "#111", "strokeWidth": 1.3}, "encoding": {"x": {"datum": 0}, "x2": {"datum": 1.2}, "y": {"datum": -0.1379}}},
{"data": {"values": [{}]}, "mark": {"type": "text", "font": "DejaVu Sans", "fontSize": 21, "color": "#111", "align": "center", "baseline": "middle"}, "encoding": {"x": {"datum": 1.0}, "y": {"datum": 3.255}, "text": {"value": "Geological sources:"}}}
]
}
],
"resolve": {"scale": {"x": "independent", "y": "independent", "fill": "independent", "stroke": "independent"}},
"config": {
 "view": {"stroke": "#f6b800", "strokeWidth": 5, "cornerRadius": 140, "fill": "white"},
 "axis": {"domain": false, "grid": false, "tickColor": "#111", "tickWidth": 1.3, "tickSize": 11, "labelFont": "DejaVu Sans", "labelFontSize": 15, "labelColor": "#111", "labelOverlap": false, "labelFlush": false, "titleFont": "DejaVu Sans", "titleFontSize": 23, "titleFontWeight": "normal", "titleColor": "#111"},
 "axisLeft": {"labelAngle": 270, "labelAlign": "center", "labelBaseline": "bottom", "labelPadding": 10},
 "axisBottom": {"labelPadding": 18},
 "legend": {"symbolType": "stroke", "symbolSize": 1369, "symbolStrokeWidth": 4, "labelFont": "DejaVu Sans", "labelFontSize": 17.5, "labelColor": "#111", "labelOffset": 6, "padding": 0, "labelLimit": 300}
}
}
